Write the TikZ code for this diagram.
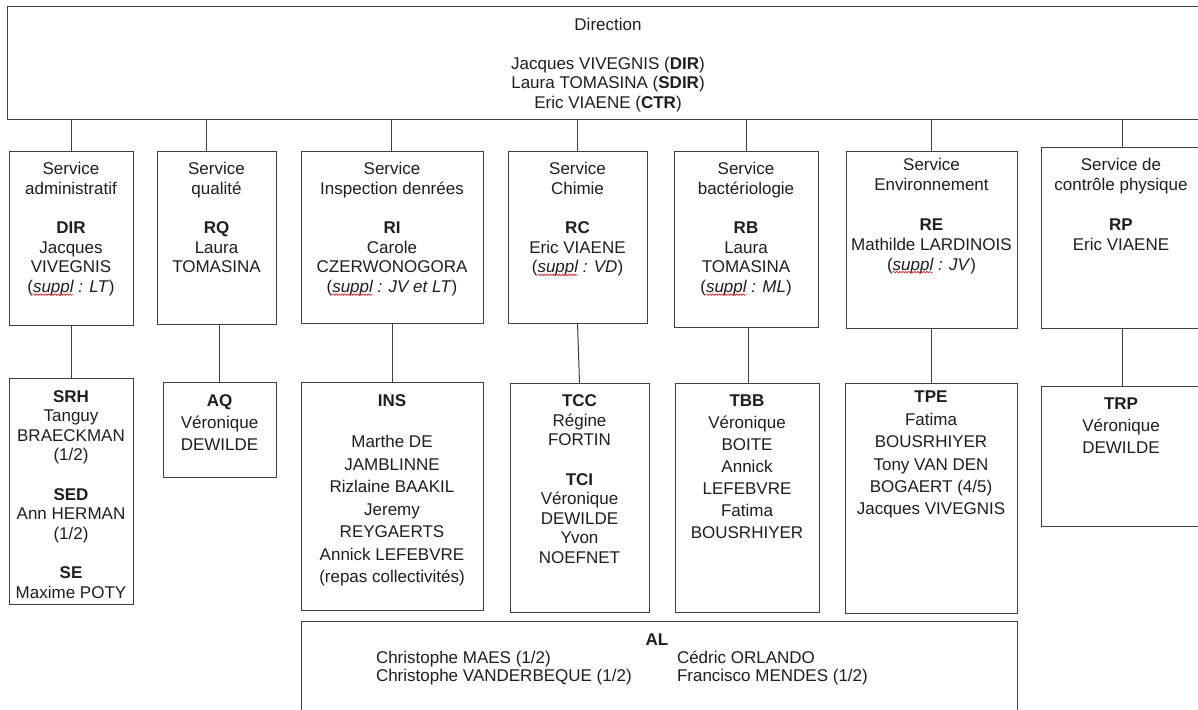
\documentclass[tikz,border=0pt]{standalone}
\usepackage{fontspec}
\setmainfont{Liberation Sans}
\usetikzlibrary{decorations.pathmorphing}
\definecolor{linec}{HTML}{404040}
\definecolor{txtc}{HTML}{1E1E1E}
\definecolor{squigc}{HTML}{E02020}
\newcommand\fsz[1]{\fontsize{17pt}{#1pt}\selectfont\lineskiplimit=-50pt\relax}
\newcommand\tstrut{\rule{0pt}{14pt}}
\tikzset{
  box/.style={draw=linec, line width=1pt, inner sep=0pt, outer sep=0pt, anchor=north west},
  txt/.style={inner sep=0pt, outer sep=0pt, anchor=north, align=center, text=txtc},
  txtl/.style={inner sep=0pt, outer sep=0pt, anchor=north west, align=left, text=txtc},
  supl/.style={inner sep=0pt, outer sep=0pt, anchor=base, text=txtc, font=\fsz{19.7}},
  conn/.style={draw=linec, line width=1pt},
  squig/.style={draw=squigc, line width=0.6pt, decorate, decoration={snake, segment length=3pt, amplitude=0.8pt}},
}
\begin{document}
\begin{tikzpicture}[x=1pt,y=-1pt]
\useasboundingbox (0,0) rectangle (1198,709);
\clip (0,0) rectangle (1198,709);

% Direction
\node[box, minimum width=1202pt, minimum height=112pt] (D) at (7,7) {};
\node[txt, font=\fsz{19.5}] (Dt) at (608,16.1) {\tstrut Direction\\ \strut\\ Jacques VIVEGNIS (\textbf{DIR})\\ Laura TOMASINA (\textbf{SDIR})\\ Eric VIAENE (\textbf{CTR})};

% Service boxes
\node[box, minimum width=124pt, minimum height=174pt] (S1) at (9,151) {};
\node[box, minimum width=119pt, minimum height=173pt] (S2) at (157,151) {};
\node[box, minimum width=182pt, minimum height=172pt] (S3) at (301,151) {};
\node[box, minimum width=139pt, minimum height=172pt] (S4) at (508,151) {};
\node[box, minimum width=144pt, minimum height=176pt] (S5) at (674,151) {};
\node[box, minimum width=171pt, minimum height=177pt] (S6) at (846,151) {};
\node[box, minimum width=160pt, minimum height=181pt] (S7) at (1041,147) {};

\node[txt, font=\fsz{19.7}] (S1t) at (71,160.4) {\tstrut Service\\ administratif\\ \strut\\ \textbf{DIR}\\ Jacques\\ VIVEGNIS};
\node[supl] (S1s) at (71,292.6) {(\textit{suppl : LT})};
\node[txt, font=\fsz{19.7}] (S2t) at (216.5,160.4) {\tstrut Service\\ qualité\\ \strut\\ \textbf{RQ}\\ Laura\\ TOMASINA};
\node[txt, font=\fsz{19.7}] (S3t) at (392,160.4) {\tstrut Service\\ Inspection denrées\\ \strut\\ \textbf{RI}\\ Carole\\ CZERWONOGORA};
\node[supl] (S3s) at (392,292.6) {(\textit{suppl : JV et LT})};
\node[txt, font=\fsz{19.7}] (S4t) at (577.5,160.4) {\tstrut Service\\ Chimie\\ \strut\\ \textbf{RC}\\ Eric VIAENE};
\node[supl] (S4s) at (577.5,272.9) {(\textit{suppl : VD})};
\node[txt, font=\fsz{19.7}] (S5t) at (746,160.4) {\tstrut Service\\ bactériologie\\ \strut\\ \textbf{RB}\\ Laura\\ TOMASINA};
\node[supl] (S5s) at (746,292.6) {(\textit{suppl : ML})};
\node[txt, font=\fsz{20}] (S6t) at (931.5,156.1) {\tstrut Service\\ Environnement\\ \strut\\ \textbf{RE}\\ Mathilde LARDINOIS};
\node[supl, font=\fsz{20}] (S6s) at (931.5,270.1) {(\textit{suppl : JV})};
\node[txt, font=\fsz{20}] (S7t) at (1121,156.1) {\tstrut Service de\\ contrôle physique\\ \strut\\ \textbf{RP}\\ Eric VIAENE};

% red spell-check squiggles under "suppl"
\foreach \n in {S1s,S3s,S4s,S5s,S6s}{
  \draw[squig] ([xshift=5.7pt,yshift=-2pt]\n.base west) -- ([xshift=46pt,yshift=-2pt]\n.base west);
}

% Lower boxes
\node[box, minimum width=124pt, minimum height=226pt] (L1) at (9,378) {};
\node[box, minimum width=113pt, minimum height=95pt] (L2) at (163,382) {};
\node[box, minimum width=182pt, minimum height=228pt] (L3) at (301,382) {};
\node[box, minimum width=139pt, minimum height=229pt] (L4) at (510,383) {};
\node[box, minimum width=144pt, minimum height=229pt] (L5) at (675,383) {};
\node[box, minimum width=172pt, minimum height=230pt] (L6) at (845,383) {};
\node[box, minimum width=160pt, minimum height=140pt] (L7) at (1041,386) {};
\node[box, minimum width=716pt, minimum height=100pt] (AL) at (301,621) {};

\node[txt, font=\fsz{19.63}] (L1t) at (71,388.1) {\tstrut\textbf{SRH}\\ Tanguy\\ BRAECKMAN\\ (1/2)\\ \strut\\ \textbf{SED}\\ Ann HERMAN\\ (1/2)\\ \strut\\ \textbf{SE}\\ Maxime POTY};
\node[txt, font=\fsz{22}] (L2t) at (219.5,392.8) {\tstrut\textbf{AQ}\\ Véronique\\ DEWILDE};
\node[txt, font=\fsz{22.5}] (L3t) at (392,392.8) {\tstrut\textbf{INS}\\[18.5pt] Marthe DE\\ JAMBLINNE\\ Rizlaine BAAKIL\\ Jeremy\\ REYGAERTS\\ Annick LEFEBVRE\\ (repas collectivités)};
\node[txt, font=\fsz{19.55}] (L4t) at (579.5,392.8) {\tstrut\textbf{TCC}\\ Régine\\ FORTIN\\ \strut\\ \textbf{TCI}\\ Véronique\\ DEWILDE\\ Yvon\\ NOEFNET};
\node[txt, font=\fsz{22}] (L5t) at (747,392.8) {\tstrut\textbf{TBB}\\ Véronique\\ BOITE\\ Annick\\ LEFEBVRE\\ Fatima\\ BOUSRHIYER};
\node[txt, font=\fsz{22.4}] (L6t) at (931,388.8) {\tstrut\textbf{TPE}\\ Fatima\\ BOUSRHIYER\\ Tony VAN DEN\\ BOGAERT (4/5)\\ Jacques VIVEGNIS};
\node[txt, font=\fsz{22}] (L7t) at (1121,395.1) {\tstrut\textbf{TRP}\\ Véronique\\ DEWILDE};

\node[inner sep=0pt, anchor=base, text=txtc, font=\fsz{18}] (ALt) at (657,645.1) {\textbf{AL}};
\node[txtl, font=\fsz{18}] (ALa) at (376,649.1) {\tstrut Christophe MAES (1/2)\\ Christophe VANDERBEQUE (1/2)};
\node[txtl, font=\fsz{18}] (ALb) at (677,649.1) {\tstrut Cédric ORLANDO\\ Francisco MENDES (1/2)};

% Connectors from Direction
\draw[conn] (S1.north) -- (S1.north |- D.south);
\draw[conn] ([xshift=-10.5pt]S2.north) -- ([xshift=-10.5pt]S2.north |- D.south);
\draw[conn] ([xshift=-1pt]S3.north) -- ([xshift=-1pt]S3.north |- D.south);
\draw[conn] (S4.north) -- (S4.north |- D.south);
\draw[conn] (S5.north) -- (S5.north |- D.south);
\draw[conn] (S6.north) -- (S6.north |- D.south);
\draw[conn] ([xshift=1pt]S7.north) -- ([xshift=1pt]S7.north |- D.south);

% Connectors service -> team
\draw[conn] (S1.south) -- (L1.north);
\draw[conn] (L2.north) -- (L2.north |- S2.south);
\draw[conn] (S3.south) -- (L3.north);
\draw[conn] (S4.south) -- (L4.north);
\draw[conn] ([xshift=1pt]L5.north) -- ([xshift=1pt]L5.north |- S5.south);
\draw[conn] (L6.north) -- (L6.north |- S6.south);
\draw[conn] ([xshift=1pt]L7.north) -- ([xshift=1pt]L7.north |- S7.south);
\end{tikzpicture}
\end{document}
